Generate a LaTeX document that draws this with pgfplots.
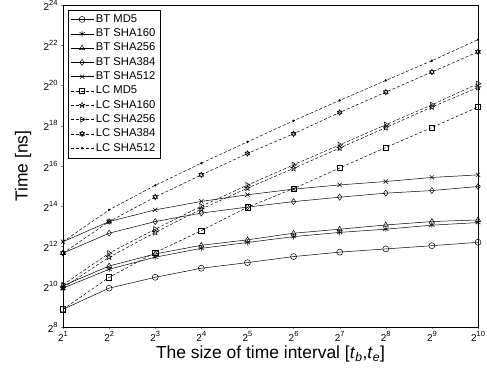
\documentclass[border=0pt]{standalone}
\usepackage{fontspec}
\setmainfont{Liberation Sans}
\usepackage{pgfplots}
\usepackage{pgfplotstable}
\pgfplotsset{compat=1.18}
\usetikzlibrary{plotmarks}

\newcommand\pw[1]{2\raisebox{0.5em}{\fontsize{7.5}{8}\selectfont #1}}

\pgfdeclareplotmark{pentagram}{%
  \pgfpathmoveto{\pgfpointpolar{90}{\pgfplotmarksize}}%
  \pgfpathlineto{\pgfpointpolar{126}{0.42\pgfplotmarksize}}%
  \pgfpathlineto{\pgfpointpolar{162}{\pgfplotmarksize}}%
  \pgfpathlineto{\pgfpointpolar{198}{0.42\pgfplotmarksize}}%
  \pgfpathlineto{\pgfpointpolar{234}{\pgfplotmarksize}}%
  \pgfpathlineto{\pgfpointpolar{270}{0.42\pgfplotmarksize}}%
  \pgfpathlineto{\pgfpointpolar{306}{\pgfplotmarksize}}%
  \pgfpathlineto{\pgfpointpolar{342}{0.42\pgfplotmarksize}}%
  \pgfpathlineto{\pgfpointpolar{18}{\pgfplotmarksize}}%
  \pgfpathlineto{\pgfpointpolar{54}{0.42\pgfplotmarksize}}%
  \pgfpathclose\pgfusepathqstroke}
\pgfdeclareplotmark{hexagram}{%
  \pgfpathmoveto{\pgfpointpolar{90}{\pgfplotmarksize}}%
  \pgfpathlineto{\pgfpointpolar{210}{\pgfplotmarksize}}%
  \pgfpathlineto{\pgfpointpolar{330}{\pgfplotmarksize}}%
  \pgfpathclose
  \pgfpathmoveto{\pgfpointpolar{270}{\pgfplotmarksize}}%
  \pgfpathlineto{\pgfpointpolar{30}{\pgfplotmarksize}}%
  \pgfpathlineto{\pgfpointpolar{150}{\pgfplotmarksize}}%
  \pgfpathclose\pgfusepathqstroke}

% x: exponent of interval size (2^x); values: exponent of time in ns (2^y)
\pgfplotstableread{
x  btmd5 btsha160 btsha256 btsha384 btsha512 lcmd5 lcsha160 lcsha256 lcsha384 lcsha512
1  8.88  9.93     10.05    11.67    12.24    8.88  9.95     10.10    11.67    12.24
2  9.93  10.87    11.03    12.66    13.24    10.47 11.47    11.67    13.24    13.82
3  10.47 11.47    11.63    13.24    13.82    11.70 12.70    12.86    14.46    15.04
4  10.92 11.91    12.06    13.66    14.24    12.79 13.86    14.00    15.56    16.14
5  11.20 12.20    12.33    13.96    14.57    13.95 14.90    15.05    16.62    17.20
6  11.50 12.49    12.66    14.23    14.85    14.88 15.88    16.06    17.60    18.25
7  11.72 12.70    12.86    14.45    15.06    15.90 16.89    17.05    18.66    19.26
8  11.88 12.86    13.07    14.65    15.23    16.92 17.91    18.05    19.67    20.25
9  12.04 13.06    13.24    14.78    15.43    17.91 18.93    19.04    20.67    21.23
10 12.21 13.19    13.32    14.98    15.56    18.93 19.90    20.09    21.67    22.28
}\datatable

\begin{document}
\begin{tikzpicture}
\begin{axis}[
  scale only axis,
  width=415bp, height=322bp,
  xmin=1, xmax=10, ymin=8, ymax=24,
  xtick={1,...,10},
  xticklabels={\pw{1},\pw{2},\pw{3},\pw{4},\pw{5},\pw{6},\pw{7},\pw{8},\pw{9},\pw{10}},
  ytick={8,10,...,24},
  yticklabels={\pw{8},\pw{10},\pw{12},\pw{14},\pw{16},\pw{18},\pw{20},\pw{22},\pw{24}},
  ticklabel style={font=\fontsize{10}{11}\selectfont},
  xticklabel style={yshift=1.5bp},
  xtick pos=left, ytick pos=left,
  tick align=outside,
  major tick length=2bp,
  axis line style={line width=0.9bp},
  xlabel={The size of time interval [\textit{t}\textsubscript{\textit{b}},\textit{t}\textsubscript{\textit{e}}]},
  ylabel={Time [ns]},
  label style={font=\fontsize{17.5}{20}\selectfont},
  xlabel style={at={(axis description cs:0.5,-0.099)}, anchor=base},
  ylabel style={at={(axis description cs:-0.096,0.5)}, anchor=center},
  every axis plot/.append style={line width=0.5bp, black, mark size=3bp, mark options={solid, fill=white}},
  legend style={at={(0.011,0.986)}, anchor=north west, draw=black, line width=0.6bp,
    font=\fontsize{11.3}{13}\selectfont, inner sep=2.5bp,
    nodes={inner sep=2bp, text height=8bp, text depth=2.3bp}},
  legend cell align=left,
  legend image code/.code={\draw[mark repeat=2,mark phase=2,#1] plot coordinates {(0bp,0bp) (11.5bp,0bp) (23bp,0bp)};},
]
\addplot[mark=o] table[x=x,y=btmd5]{\datatable};
\addlegendentry{BT MD5}
\addplot[mark=asterisk] table[x=x,y=btsha160]{\datatable};
\addlegendentry{BT SHA160}
\addplot[mark=triangle] table[x=x,y=btsha256]{\datatable};
\addlegendentry{BT SHA256}
\addplot[mark=diamond] table[x=x,y=btsha384]{\datatable};
\addlegendentry{BT SHA384}
\addplot[mark=x] table[x=x,y=btsha512]{\datatable};
\addlegendentry{BT SHA512}
\addplot[densely dashed, mark=square, mark size=2.6bp] table[x=x,y=lcmd5]{\datatable};
\addlegendentry{LC MD5}
\addplot[densely dashed, mark=pentagram] table[x=x,y=lcsha160]{\datatable};
\addlegendentry{LC SHA160}
\addplot[densely dashed, mark=triangle, mark options={solid, rotate=-90}] table[x=x,y=lcsha256]{\datatable};
\addlegendentry{LC SHA256}
\addplot[densely dashed, mark=hexagram, mark size=2.8bp] table[x=x,y=lcsha384]{\datatable};
\addlegendentry{LC SHA384}
\addplot[densely dashed, mark=*, mark size=0.9bp, mark options={solid, fill=black}] table[x=x,y=lcsha512]{\datatable};
\addlegendentry{LC SHA512}
\end{axis}
\pgfresetboundingbox
\path ([xshift=-63bp,yshift=-46bp]current axis.south west) rectangle ([xshift=9bp,yshift=5bp]current axis.north east);
\end{tikzpicture}
\end{document}
